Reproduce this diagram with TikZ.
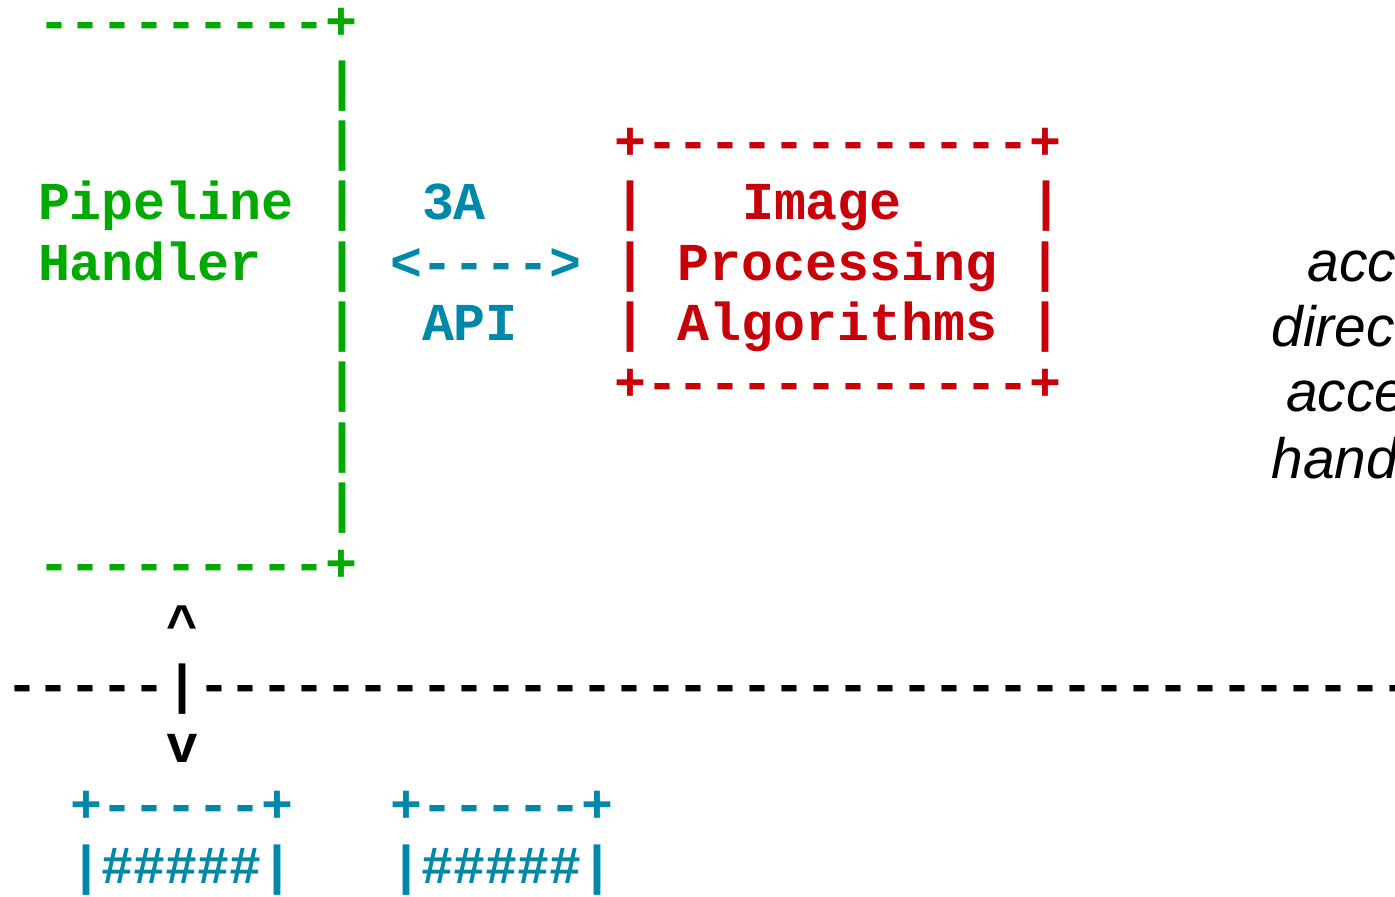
\documentclass[tikz,border=0pt]{standalone}
\usepackage{fontspec}
\setmonofont{Liberation Mono}
\newfontfamily\notefont{Liberation Sans}
\usepackage{tikz}

\definecolor{handlergreen}{HTML}{00AA00}
\definecolor{apiblue}{HTML}{0088AA}
\definecolor{algored}{HTML}{C8000A}

\begin{document}
\begin{tikzpicture}[
            x=0.32cm,y=-0.603cm,
            ascii/.style={font=\ttfamily\bfseries\fontsize{15.17}{18}\selectfont,inner sep=0,outer sep=0,anchor=base west},
            handler/.style={ascii,text=handlergreen},
            api/.style={ascii,text=apiblue},
            algo/.style={ascii,text=algored},
            border/.style={ascii,text=black},
            note/.style={font=\notefont\itshape\fontsize{16.2}{18}\selectfont,inner sep=0,outer sep=0,anchor=base west}
          ]
          \useasboundingbox (-0.1875,-0.648) rectangle (43.406,14.227);

          %pipeline handler
          \node[handler] (htop) at (1,0) {---------+};
          \node[handler] (h1) at (10,1) {|};
          \node[handler] (h2) at (10,2) {|};
          \node[handler] (h3) at (10,3) {|};
          \node[handler] (h4) at (10,4) {|};
          \node[handler] (h5) at (10,5) {|};
          \node[handler] (h6) at (10,6) {|};
          \node[handler] (h7) at (10,7) {|};
          \node[handler] (h8) at (10,8) {|};
          \node[handler] (hbot) at (1,9) {---------+};
          \node[handler] (pipeline) at (1,3) {Pipeline};
          \node[handler] (handler) at (1,4) {Handler};

          %3A API
          \node[api] (threea) at (13,3) {3A};
          \node[api] (arrow) at (12,4) {<---->};
          \node[api] (apilab) at (13,5) {API};

          %image processing algorithms
          \node[algo] (atop) at (19,2) {+------------+};
          \node[algo] (a3l) at (19,3) {|};
          \node[algo] (image) at (23,3) {Image};
          \node[algo] (a3r) at (32,3) {|};
          \node[algo] (a4) at (19,4) {| Processing |};
          \node[algo] (a5) at (19,5) {| Algorithms |};
          \node[algo] (abot) at (19,6) {+------------+};

          %kernel boundary
          \node[border] (up) at (5,10) {\textasciicircum};
          \node[border] (left) at (0,11) {-----};
          \node[border] (bar) at (5,11) {|};
          \node[border] (right) at (6,11) {--------------------------------------};
          \node[border] (down) at (5,12) {v};

          %buffers
          \node[api] (b1top) at (2,13) {+-----+};
          \node[api] (b1) at (2,14) {|\#\#\#\#\#|};
          \node[api] (b2top) at (12,13) {+-----+};
          \node[api] (b2) at (12,14) {|\#\#\#\#\#|};

          %side note
          \node[note] (n1) at (40.68,4.023) {acc};
          \node[note] (n2) at (39.55,5.101) {direc};
          \node[note] (n3) at (40.0,6.179) {acce};
          \node[note] (n4) at (39.55,7.279) {hand};

      \end{tikzpicture}
\end{document}
